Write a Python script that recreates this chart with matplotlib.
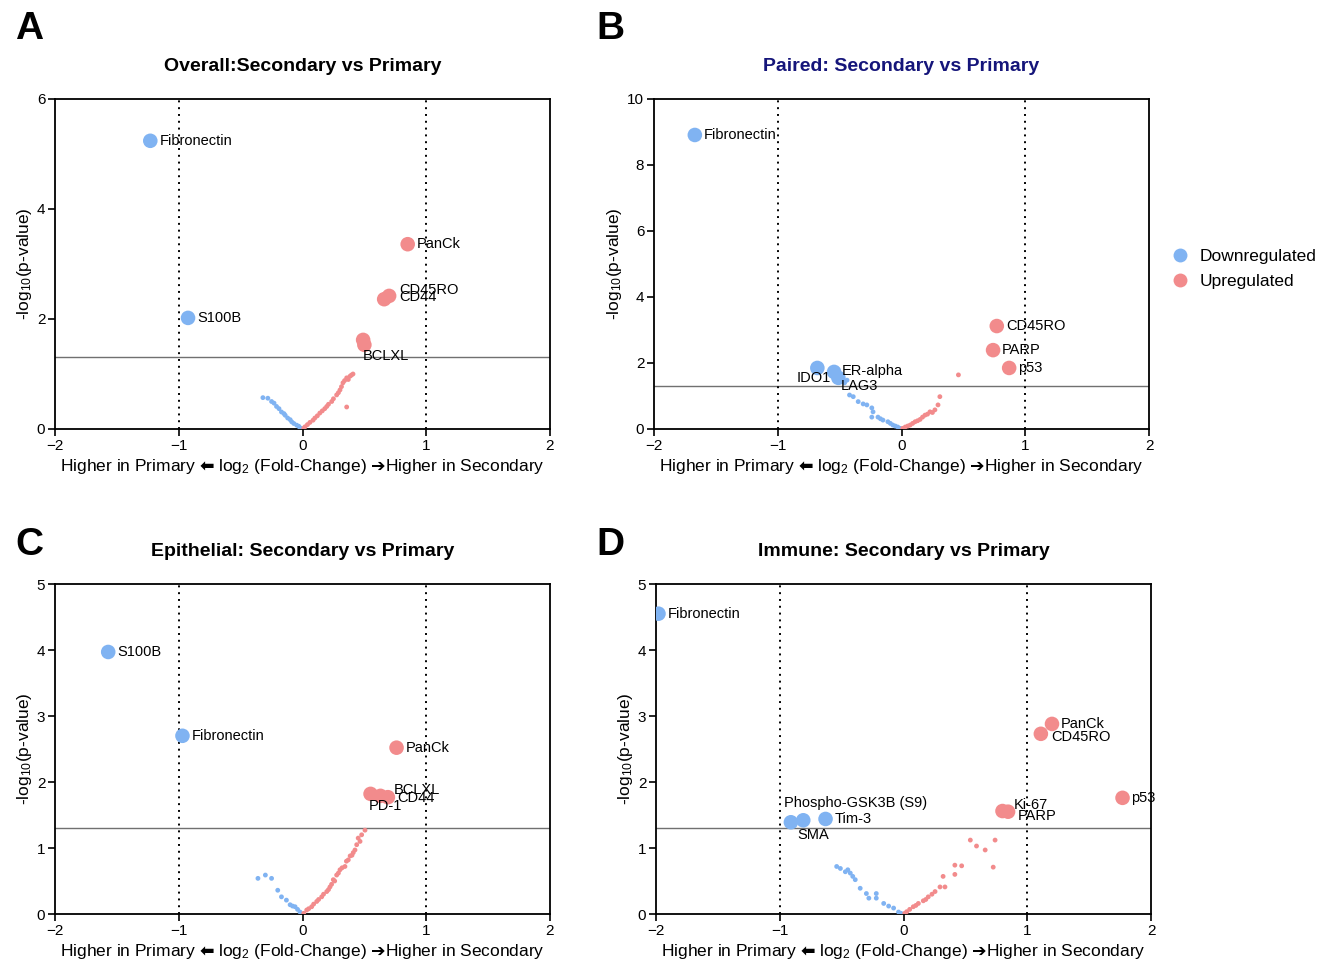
import matplotlib
matplotlib.use("Agg")
import matplotlib.pyplot as plt
from matplotlib.lines import Line2D

plt.rcParams['font.family'] = ['Liberation Sans', 'DejaVu Sans']
plt.rcParams['mathtext.fontset'] = 'custom'
plt.rcParams['mathtext.rm'] = 'Liberation Sans'
plt.rcParams['mathtext.it'] = 'Liberation Sans:italic'
plt.rcParams['mathtext.sf'] = 'DejaVu Sans:bold'

BLUE = '#80B3F2'
RED = '#F28B8C'

# ---------------- Panel A: Overall ----------------
a_titles = "Overall:Secondary vs Primary"
a_sig_labels = ["Fibronectin", "S100B", "PanCk", "CD45RO", "CD44", "BCLXL", ""]
a_sig_x = [-1.23, -0.925, 0.85, 0.70, 0.66, 0.50, 0.49]
a_sig_y = [5.24, 2.02, 3.36, 2.42, 2.36, 1.53, 1.62]
a_down_x = [-0.32, -0.28, -0.25, -0.23, -0.21, -0.19, -0.17, -0.15, -0.14, -0.12, -0.10, -0.087, -0.07, -0.047, -0.03, -0.02, -0.01]
a_down_y = [0.57, 0.56, 0.50, 0.47, 0.41, 0.37, 0.31, 0.28, 0.25, 0.20, 0.17, 0.13, 0.10, 0.07, 0.05, 0.02, 0.01]
a_up_x = [0.01, 0.02, 0.04, 0.06, 0.085, 0.10, 0.12, 0.14, 0.16, 0.18, 0.196, 0.21, 0.236, 0.25, 0.276, 0.29, 0.303, 0.315, 0.327, 0.34, 0.357, 0.37, 0.384, 0.395, 0.408, 0.357]
a_up_y = [0.01, 0.04, 0.08, 0.12, 0.16, 0.20, 0.24, 0.29, 0.33, 0.37, 0.41, 0.45, 0.50, 0.55, 0.62, 0.66, 0.71, 0.77, 0.84, 0.88, 0.93, 0.90, 0.96, 0.98, 1.00, 0.40]
a_yticks = [0, 2, 4, 6]

# ---------------- Panel B: Paired ----------------
b_titles = "Paired: Secondary vs Primary"
b_sig_labels = ["Fibronectin", "CD45RO", "PARP", "p53", "IDO1", "ER-alpha", "LAG3"]
b_sig_x = [-1.67, 0.77, 0.74, 0.87, -0.68, -0.545, -0.51]
b_sig_y = [8.91, 3.12, 2.39, 1.85, 1.85, 1.73, 1.55]
b_down_x = [-0.46, -0.44, -0.42, -0.39, -0.35, -0.31, -0.28, -0.24, -0.23, -0.24, -0.19, -0.17, -0.15, -0.11, -0.09, -0.07, -0.05, -0.03, -0.01]
b_down_y = [1.40, 1.48, 1.03, 0.98, 0.83, 0.76, 0.73, 0.64, 0.52, 0.36, 0.36, 0.31, 0.27, 0.22, 0.17, 0.12, 0.09, 0.06, 0.02]
b_up_x = [0.01, 0.03, 0.05, 0.07, 0.09, 0.11, 0.13, 0.15, 0.17, 0.19, 0.21, 0.23, 0.25, 0.27, 0.295, 0.31, 0.46]
b_up_y = [0.02, 0.06, 0.09, 0.12, 0.17, 0.22, 0.25, 0.29, 0.36, 0.42, 0.45, 0.52, 0.50, 0.58, 0.73, 0.98, 1.64]
b_yticks = [0, 2, 4, 6, 8, 10]

# ---------------- Panel C: Epithelial ----------------
c_titles = "Epithelial: Secondary vs Primary"
c_sig_labels = ["S100B", "Fibronectin", "PanCk", "PD-1", "BCLXL", "CD44"]
c_sig_x = [-1.57, -0.97, 0.76, 0.55, 0.63, 0.69]
c_sig_y = [3.97, 2.70, 2.52, 1.82, 1.79, 1.77]
c_down_x = [-0.36, -0.30, -0.25, -0.20, -0.17, -0.13, -0.10, -0.08, -0.06, -0.04, -0.02]
c_down_y = [0.54, 0.59, 0.54, 0.36, 0.26, 0.21, 0.14, 0.12, 0.11, 0.07, 0.03]
c_up_x = [0.01, 0.034, 0.05, 0.074, 0.09, 0.115, 0.13, 0.155, 0.17, 0.196, 0.21, 0.222, 0.235, 0.249, 0.26, 0.276, 0.29, 0.303, 0.32, 0.343, 0.355, 0.37, 0.385, 0.40, 0.41, 0.424, 0.438, 0.45, 0.465, 0.478, 0.505]
c_up_y = [0.01, 0.06, 0.08, 0.11, 0.15, 0.19, 0.22, 0.26, 0.30, 0.34, 0.37, 0.41, 0.45, 0.52, 0.50, 0.59, 0.62, 0.67, 0.70, 0.72, 0.80, 0.82, 0.88, 0.89, 0.93, 0.97, 1.05, 1.15, 1.10, 1.20, 1.27]
c_yticks = [0, 1, 2, 3, 4, 5]

# ---------------- Panel D: Immune ----------------
d_titles = "Immune: Secondary vs Primary"
d_sig_labels = ["Fibronectin", "PanCk", "CD45RO", "p53", "Ki-67", "PARP", "Phospho-GSK3B (S9)", "SMA", "Tim-3"]
d_sig_x = [-1.98, 1.20, 1.11, 1.77, 0.80, 0.845, -0.91, -0.81, -0.63]
d_sig_y = [4.55, 2.88, 2.73, 1.76, 1.56, 1.55, 1.39, 1.42, 1.44]
d_down_x = [-0.54, -0.51, -0.47, -0.45, -0.43, -0.41, -0.39, -0.35, -0.30, -0.28, -0.22, -0.22, -0.16, -0.12, -0.08, -0.04, -0.02]
d_down_y = [0.72, 0.69, 0.64, 0.67, 0.62, 0.57, 0.52, 0.39, 0.31, 0.24, 0.31, 0.24, 0.16, 0.12, 0.09, 0.03, 0.01]
d_up_x = [0.01, 0.026, 0.05, 0.079, 0.10, 0.12, 0.16, 0.18, 0.20, 0.23, 0.255, 0.295, 0.32, 0.335, 0.415, 0.415, 0.47, 0.54, 0.59, 0.66, 0.74, 0.725]
d_up_y = [0.01, 0.035, 0.07, 0.11, 0.13, 0.16, 0.20, 0.22, 0.26, 0.30, 0.34, 0.41, 0.57, 0.41, 0.60, 0.74, 0.73, 1.12, 1.03, 0.97, 1.12, 0.71]
d_yticks = [0, 1, 2, 3, 4, 5]

x_ticks = [-2, -1, 0, 1, 2]
legend_labels = ["Downregulated", "Upregulated"]

# label offsets in pixels (dx, dy)
a_offsets = [(9, 0), (9, 0), (9, 0), (10, 6), (15, 2), (-2, -11), None]
b_offsets = [(9, 0), (9, 0), (9, 0), (9, 0), (-21, -10), (8, 1), (2, -8)]
c_offsets = [(9, 0), (9, 0), (9, 0), (-2, -12), (13, 6), (9, -1)]
d_offsets = [(9, 0), (9, 0), (10, -3), (9, 0), (11, 6), (10, -4), (-7, 19), (-6, -15), (9, 0)]

W, H = 1333, 967
fig = plt.figure(figsize=(W / 100, H / 100), dpi=100)

XLABEL = "Higher in Primary $\\mathsf{\u2B05}$ log$_2$ (Fold-Change) $\\mathsf{\u2794}$Higher in Secondary"


def make_panel(rect, letter, letter_xy, title, title_color, sig_x, sig_y, sig_labels, offsets,
               dx, dy, ux, uy, yticks):
    l, t, r, b = rect
    ax = fig.add_axes([l / W, 1 - b / H, (r - l) / W, (b - t) / H])
    ymax = yticks[-1]
    ax.set_xlim(-2, 2)
    ax.set_ylim(0, ymax)
    ax.axhline(1.30103, color='#707070', lw=1.0, zorder=1)
    ax.axvline(-1, color='black', lw=1.4, ls=(0, (1, 2.5)), zorder=1)
    ax.axvline(1, color='black', lw=1.4, ls=(0, (1, 2.5)), zorder=1)
    ax.scatter(dx, dy, s=12, color=BLUE, edgecolors='none', zorder=3)
    ax.scatter(ux, uy, s=12, color=RED, edgecolors='none', zorder=3)
    cols = [BLUE if x < 0 else RED for x in sig_x]
    ax.scatter(sig_x, sig_y, s=110, c=cols, edgecolors='none', zorder=4)
    for x, y, lab, off in zip(sig_x, sig_y, sig_labels, offsets):
        if not lab or off is None:
            continue
        ax.annotate(lab, (x, y), xytext=off, textcoords='offset pixels',
                    ha='left', va='center', fontsize=10.5, zorder=5)
    ax.set_xticks(x_ticks)
    ax.set_yticks(yticks)
    ax.tick_params(labelsize=11, length=5, width=1.2, direction='out', pad=2)
    for s in ax.spines.values():
        s.set_linewidth(1.3)
    ax.set_xlabel(XLABEL, fontsize=12.5, labelpad=3)
    ax.set_ylabel("-log$_{10}$(p-value)", fontsize=12.5, labelpad=2)
    ax.set_title(title, fontsize=14, fontweight='bold', color=title_color, pad=20)
    fig.text(letter_xy[0] / W, 1 - letter_xy[1] / H, letter, fontsize=28, fontweight='bold',
             ha='left', va='center')
    return ax


make_panel((55, 99, 550, 429), 'A', (15, 29), a_titles, 'black', a_sig_x, a_sig_y, a_sig_labels, a_offsets,
           a_down_x, a_down_y, a_up_x, a_up_y, a_yticks)
make_panel((654, 99, 1149, 429), 'B', (596, 29), b_titles, '#15157a', b_sig_x, b_sig_y, b_sig_labels, b_offsets,
           b_down_x, b_down_y, b_up_x, b_up_y, b_yticks)
make_panel((55, 584, 550, 914), 'C', (15, 545), c_titles, 'black', c_sig_x, c_sig_y, c_sig_labels, c_offsets,
           c_down_x, c_down_y, c_up_x, c_up_y, c_yticks)
make_panel((656, 584, 1151, 914), 'D', (596, 545), d_titles, 'black', d_sig_x, d_sig_y, d_sig_labels, d_offsets,
           d_down_x, d_down_y, d_up_x, d_up_y, d_yticks)

handles = [Line2D([], [], marker='o', ls='none', markersize=10, markerfacecolor=c, markeredgecolor='none')
           for c in (BLUE, RED)]
fig.legend(handles, legend_labels, loc='center left', bbox_to_anchor=(1160 / W, 1 - 269 / H),
           frameon=False, fontsize=12.5, handletextpad=0.4, labelspacing=0.55, borderaxespad=0,
           handlelength=1.5)

fig.savefig("out.png", dpi=100)
